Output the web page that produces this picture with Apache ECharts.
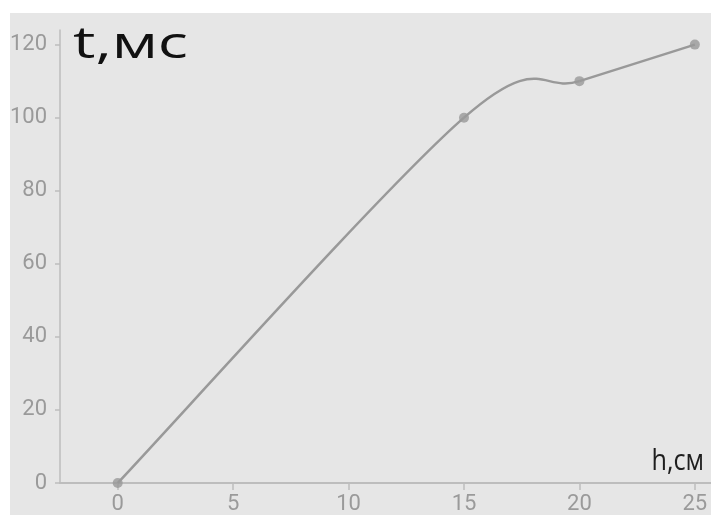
<!DOCTYPE html>
<html><head><meta charset="utf-8">
<script src="https://cdn.jsdelivr.net/npm/echarts@6/dist/echarts.min.js"></script>
<style>html,body{margin:0;padding:0;background:#fff}#c{width:711px;height:515px}</style>
</head><body><div id="c"></div>
<script>
const hValues = [0, 15, 20, 25];
const tValues = [0, 100, 110, 120];
const xTicks = [0, 5, 10, 15, 20, 25];
const yTicks = [0, 20, 40, 60, 80, 100, 120];
const yTitle = 't,мс';
const xTitle = 'h,см';

const chart = echarts.init(document.getElementById('c'), null, {renderer: 'canvas'});
const labelFont = "Roboto, sans-serif";
const axisGray = '#bdbdbd';
const lineGray = '#999999';
const pts = hValues.map((h, i) => [h, tValues[i]]);

// Catmull-Rom style smoothing (spreadsheet-like) between data points, in pixel space
function renderSegment(params, api) {
  const i = params.dataIndex;
  if (i === 0) return null;
  const n = pts.length;
  const P = j => api.coord(pts[Math.max(0, Math.min(n - 1, j))]);
  const p0 = P(i - 2), p1 = P(i - 1), p2 = P(i), p3 = P(i + 1);
  const k = 1 / 6;
  return {
    type: 'bezierCurve',
    shape: {
      x1: p1[0], y1: p1[1], x2: p2[0], y2: p2[1],
      cpx1: p1[0] + (p2[0] - p0[0]) * k, cpy1: p1[1] + (p2[1] - p0[1]) * k,
      cpx2: p2[0] - (p3[0] - p1[0]) * k, cpy2: p2[1] - (p3[1] - p1[1]) * k
    },
    style: {stroke: lineGray, lineWidth: 2.5, fill: null}
  };
}

chart.setOption({
  animation: false,
  backgroundColor: '#ffffff',
  graphic: [
    {type: 'rect', left: 10, top: 13, z: -10, silent: true,
     shape: {width: 701, height: 502}, style: {fill: '#e6e6e6'}},
    {type: 'text', x: 73, y: 45, scaleX: 1.43, z: 10, silent: true,
     style: {text: yTitle, fill: '#111111', font: "44px 'Open Sans', sans-serif",
             textAlign: 'left', textVerticalAlign: 'middle'}},
    {type: 'text', x: 704, y: 462, scaleX: 0.87, z: 10, silent: true,
     style: {text: xTitle, fill: '#1e1e1e', font: "29px 'Open Sans', sans-serif",
             textAlign: 'right', textVerticalAlign: 'middle'}}
  ],
  grid: {left: 60, right: 0, top: 30, bottom: 30},
  xAxis: {
    type: 'value', min: -2.5, max: 25.7,
    axisLine: {show: true, onZero: false, lineStyle: {color: axisGray, width: 2}},
    axisTick: {show: true, customValues: xTicks, length: 7, lineStyle: {color: axisGray, width: 1.5}},
    axisLabel: {customValues: xTicks, color: '#9a9a9a', fontSize: 22, fontFamily: labelFont, margin: 10},
    splitLine: {show: false}
  },
  yAxis: {
    type: 'value', min: 0, max: 124,
    axisLine: {show: true, onZero: false, lineStyle: {color: axisGray, width: 1.5}},
    axisTick: {show: true, customValues: yTicks, length: 5, lineStyle: {color: axisGray, width: 1.5}},
    axisLabel: {customValues: yTicks, color: '#9a9a9a', fontSize: 22, fontFamily: labelFont, margin: 13},
    splitLine: {show: false}
  },
  series: [
    {type: 'custom', data: pts, renderItem: renderSegment, silent: true, z: 2},
    {type: 'scatter', data: pts, symbol: 'circle', symbolSize: 10,
     itemStyle: {color: lineGray}, z: 3}
  ]
});
</script>
</body></html>
